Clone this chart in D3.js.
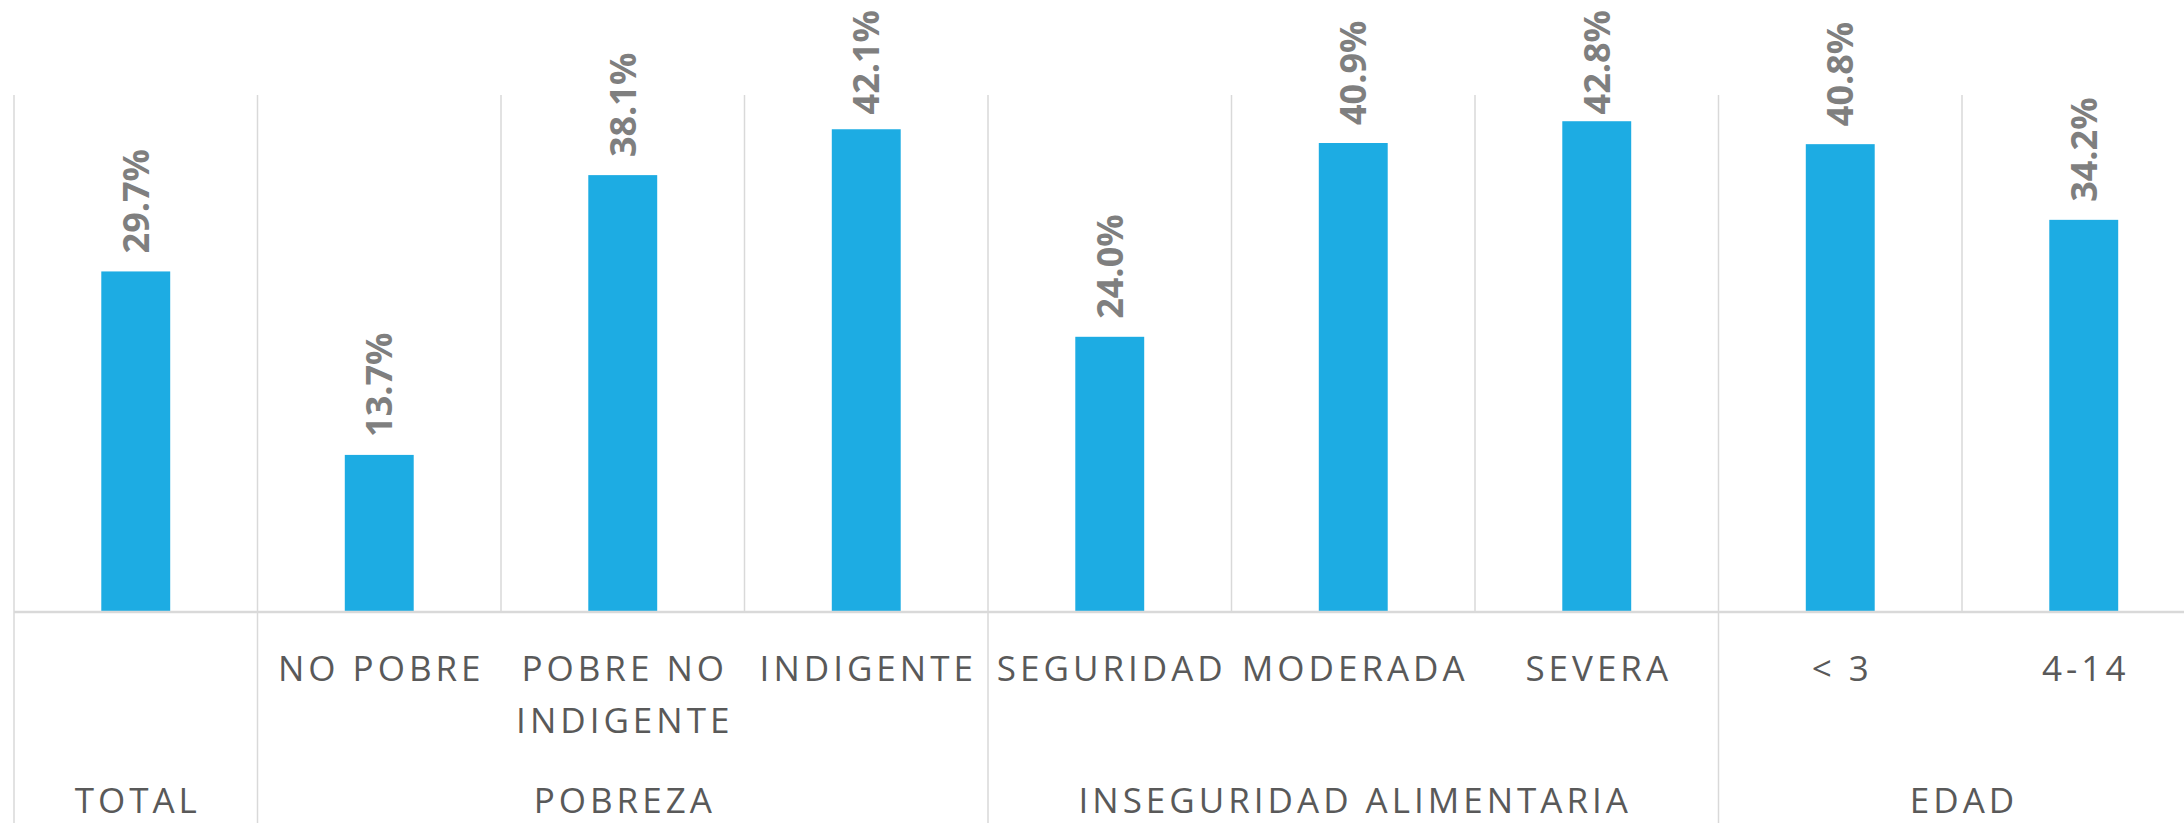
<!DOCTYPE html>
<html>
<head>
<meta charset="utf-8">
<script src="https://cdn.jsdelivr.net/npm/d3@7"></script>
<style>
  body { margin: 0; background: #fff; }
  svg { display: block; }
  .cat { font-family: "Open Sans", sans-serif; font-weight: 400; fill: #595959; }
  .lbl { font-family: "Open Sans", sans-serif; font-weight: 700; fill: #7F7F7F; }
</style>
</head>
<body>
<svg id="chart" width="2184" height="823"></svg>
<script>
// categorias (una linea por elemento, "|" parte la etiqueta en dos)
const tickLabels = ["", "NO POBRE", "POBRE NO|INDIGENTE", "INDIGENTE", "SEGURIDAD", "MODERADA", "SEVERA", "< 3", "4-14"];
const values = [29.7, 13.7, 38.1, 42.1, 24.0, 40.9, 42.8, 40.8, 34.2];
const groups = ["TOTAL", "POBREZA", "INSEGURIDAD ALIMENTARIA", "EDAD"];
const groupSizes = [1, 3, 3, 2];

const svg = d3.select("#chart");
const left = 14, band = 243.5;
const plotTop = 95, base = 612;
const catSize = 35, catSpacing = 4;

const x = d3.scaleBand()
  .domain(d3.range(values.length))
  .range([left, left + band * values.length])
  .padding(0);

const y = d3.scaleLinear().domain([0, 45]).range([base, 96]);

const barW = x.bandwidth() * 0.283;
const grid = "#D9D9D9";
const edge = i => i < values.length ? x(i) : x.range()[1];

// lineas verticales entre categorias (zona del grafico)
svg.append("g").selectAll("line")
  .data(d3.range(values.length + 1))
  .join("line")
  .attr("x1", edge).attr("x2", edge)
  .attr("y1", plotTop).attr("y2", base)
  .attr("stroke", grid).attr("stroke-width", 1.5);

// separadores de grupos (bajo el eje)
const cuts = [0].concat(Array.from(d3.cumsum(groupSizes)));
svg.append("g").selectAll("line")
  .data(cuts)
  .join("line")
  .attr("x1", edge).attr("x2", edge)
  .attr("y1", base).attr("y2", 823)
  .attr("stroke", grid).attr("stroke-width", 1.5);

// barras
svg.append("g").selectAll("rect")
  .data(values)
  .join("rect")
  .attr("x", (d, i) => x(i) + (x.bandwidth() - barW) / 2)
  .attr("width", barW)
  .attr("y", d => y(d))
  .attr("height", d => y(0) - y(d))
  .attr("fill", "#1DACE3");

// eje base
svg.append("line")
  .attr("x1", left).attr("x2", x.range()[1])
  .attr("y1", base).attr("y2", base)
  .attr("stroke", grid).attr("stroke-width", 2.5);

// etiquetas de valores, rotadas
svg.append("g").selectAll("text")
  .data(values)
  .join("text")
  .attr("class", "lbl")
  .attr("font-size", 36)
  .text(d => d.toFixed(1) + "%")
  .each(function (d, i) {
    const len = this.getComputedTextLength();
    let start = y(d) - 18;               // parte baja del texto
    if (start - len < 10) start = 10 + len; // no salir del area
    const cx = x(i) + x.bandwidth() / 2;
    d3.select(this)
      .attr("transform", `translate(${cx},${start}) rotate(-90)`)
      .attr("dy", "0.36em");
  });

// etiquetas de categorias
const catG = svg.append("g");
tickLabels.forEach((t, i) => {
  if (!t) return;
  const txt = catG.append("text")
    .attr("class", "cat")
    .attr("font-size", catSize)
    .attr("letter-spacing", catSpacing)
    .attr("text-anchor", "middle");
  t.split("|").forEach((line, k) => {
    txt.append("tspan")
      .attr("x", x(i) + x.bandwidth() / 2 + catSpacing / 2)
      .attr("y", 681 + k * 52)
      .text(line);
  });
});

// etiquetas de grupos
svg.append("g").selectAll("text")
  .data(groups)
  .join("text")
  .attr("class", "cat")
  .attr("font-size", catSize)
  .attr("letter-spacing", catSpacing)
  .attr("text-anchor", "middle")
  .attr("x", (g, j) => (edge(cuts[j]) + edge(cuts[j + 1])) / 2 + catSpacing / 2)
  .attr("y", 813)
  .text(g => g);
</script>
</body>
</html>
